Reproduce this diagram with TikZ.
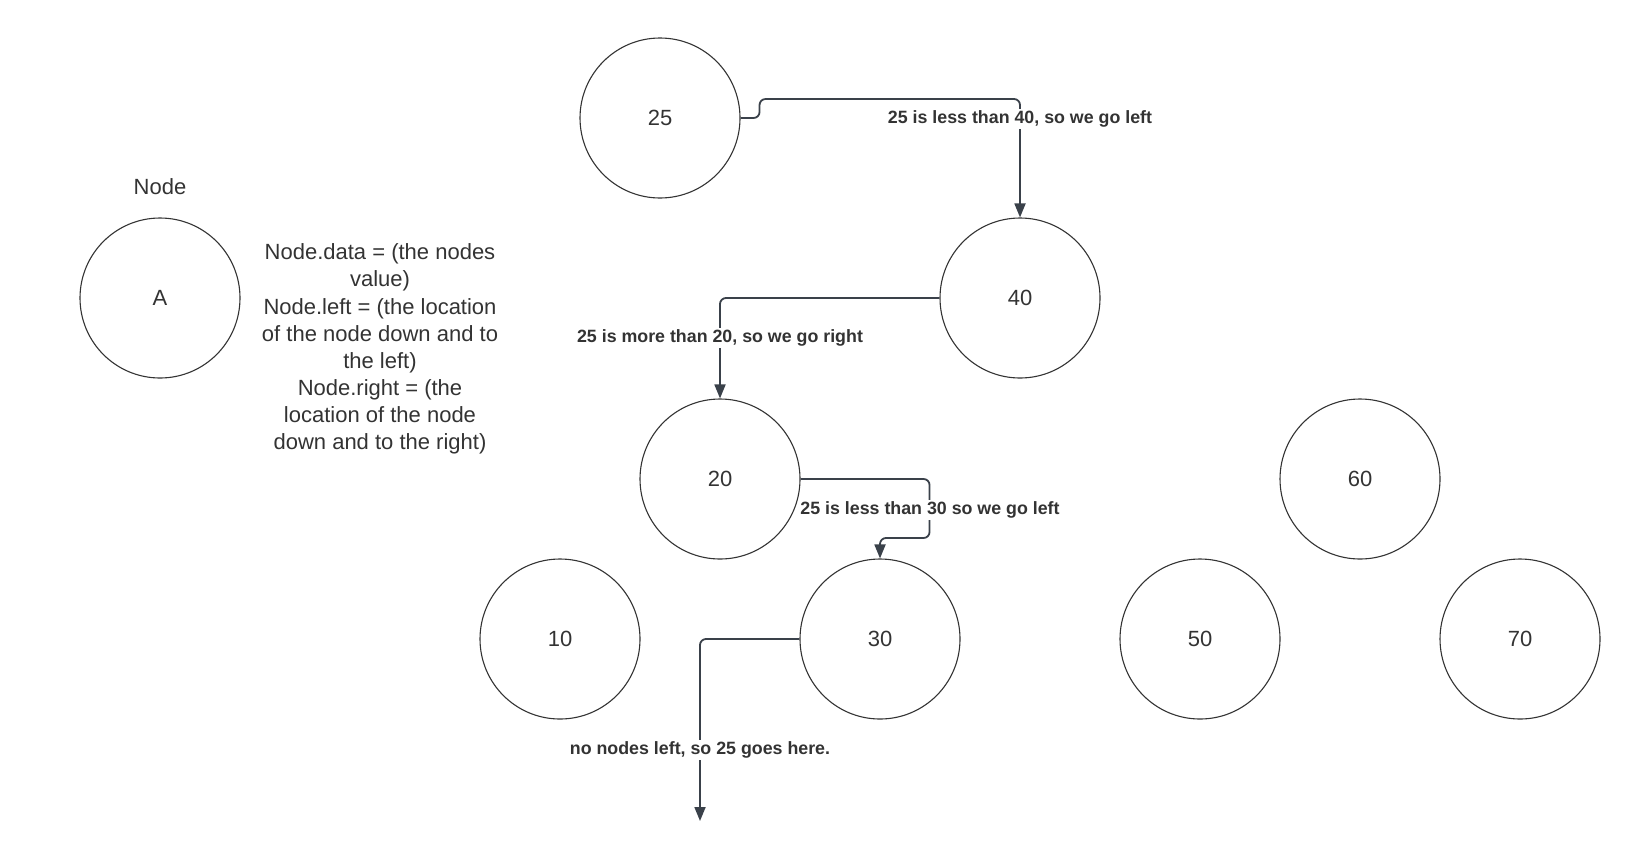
\documentclass[tikz,border=0pt]{standalone}
\usepackage{fontspec}
\setmainfont{Liberation Sans}
\usetikzlibrary{arrows.meta}

\definecolor{linecol}{RGB}{58,65,74}
\definecolor{textcol}{RGB}{51,51,51}

\tikzset{
  treenode/.style={circle, draw=textcol, line width=1.1pt, minimum size=160pt, inner sep=0pt,
    text=textcol, font=\fontsize{22}{26.4}\selectfont},
  link/.style={draw=linecol, line width=1.8pt, rounded corners=6pt,
    -{Triangle[length=14pt,width=11pt]}},
  steplabel/.style={fill=white, inner sep=1.5pt, text=textcol,
    font=\fontsize{17.8}{21}\selectfont\bfseries}
}

\begin{document}
\begin{tikzpicture}[x=1pt, y=-1pt, line join=round]
\useasboundingbox (0,0) rectangle (1640,860);

% legend
\node (nodetitle) at (160, 187) [text=textcol, font=\fontsize{22}{26.4}\selectfont] {Node};
\node (nA) at (160, 298) [treenode] {A};
\node (legend) at (380, 349) [align=center, text=textcol, font=\fontsize{22}{27.1}\selectfont]
  {Node.data = (the nodes\\ value)\\ Node.left = (the location\\ of the node down and to\\ the left)\\
   Node.right = (the\\ location of the node\\ down and to the right)};

% tree
\node (n25) at (660, 118) [treenode] {25};
\node (n40) at (1020, 298) [treenode] {40};
\node (n20) at (720, 479) [treenode] {20};
\node (n60) at (1360, 479) [treenode] {60};
\node (n10) at (560, 639) [treenode] {10};
\node (n30) at (880, 639) [treenode] {30};
\node (n50) at (1200, 639) [treenode] {50};
\node (n70) at (1520, 639) [treenode] {70};

\coordinate (here) at (700, 821);

% search path for 25
\draw[link] (n25.east) -- ++(19,0) -- ++(0,-19) -| (n40);
\draw[link] (n40.west) -| (n20);
\draw[link] (n20.east) -| ++(129,59) -| (n30);
\draw[link] (n30.west) -| (here);

\node (lbl40) at (1020, 119) [steplabel] {25 is less than 40, so we go left};
\node (lbl20) at (720, 338) [steplabel] {25 is more than 20, so we go right};
\node (lbl30) at (930, 510) [steplabel] {25 is less than 30 so we go left};
\node (lblhere) at (700, 750) [steplabel] {no nodes left, so 25 goes here.};

\end{tikzpicture}
\end{document}
